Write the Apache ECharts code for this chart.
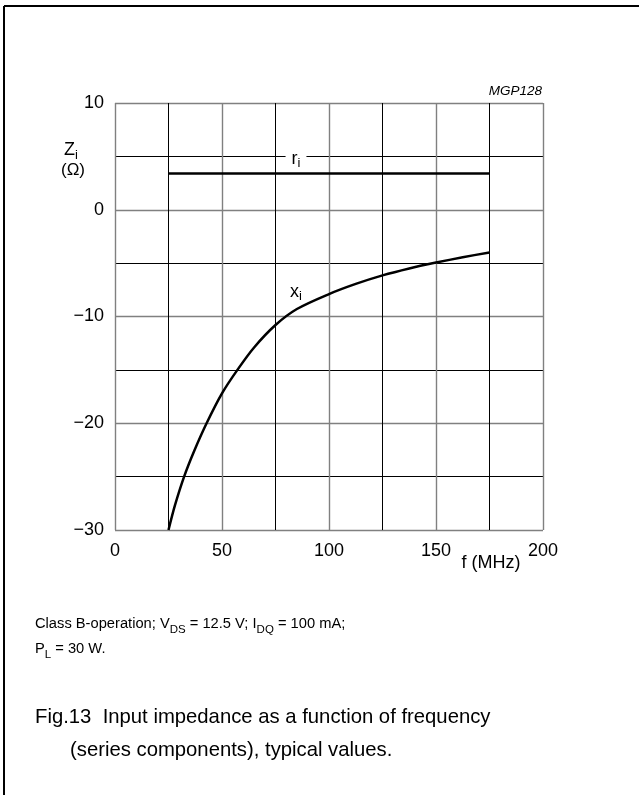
<!DOCTYPE html>
<html>
<head>
<meta charset="utf-8">
<script src="https://cdn.jsdelivr.net/npm/echarts@6/dist/echarts.min.js"></script>
<style>
html,body{margin:0;padding:0;background:#fff;}
#c{width:639px;height:795px;}
</style>
</head>
<body>
<div id="c"></div>
<script>
// Data
const riFreq = [25, 175];
const riValues = [3.4, 3.4];
const xiFreq = [25, 28, 32.3, 37, 42.8, 50, 57.2, 65, 75, 85, 100, 112.5, 125, 137.5, 150, 162.5, 175];
const xiValues = [-30, -27.7, -25, -22.6, -20, -17.2, -15, -12.9, -10.8, -9.3, -7.9, -6.95, -6.15, -5.5, -4.95, -4.45, -4.0];
const xTicks = [0, 50, 100, 150, 200];
const yTicks = [-30, -20, -10, 0, 10];

const FONT = '"Liberation Sans", Arial, sans-serif';
const chart = echarts.init(document.getElementById('c'), null, {renderer: 'canvas'});

const zip = (a, b) => a.map((v, i) => [v, b[i]]);

chart.setOption({
  animation: false,
  backgroundColor: '#fff',
  grid: {left: 115, top: 103, right: 96, bottom: 265},
  xAxis: {
    type: 'value', min: xTicks[0], max: xTicks[xTicks.length - 1], interval: 50,
    axisLine: {show: false}, axisTick: {show: false},
    axisLabel: {margin: 12, color: '#000', fontSize: 18, fontFamily: FONT},
    splitLine: {show: true, lineStyle: {color: '#808080', width: 1.4}},
    minorTick: {show: false, splitNumber: 2},
    minorSplitLine: {show: true, lineStyle: {color: '#000', width: 1}}
  },
  yAxis: {
    type: 'value', min: yTicks[0], max: yTicks[yTicks.length - 1], interval: 10,
    axisLine: {show: false}, axisTick: {show: false},
    axisLabel: {margin: 11, color: '#000', fontSize: 18, fontFamily: FONT,
      formatter: v => String(v).replace('-', '\u2212')},
    splitLine: {show: true, lineStyle: {color: '#808080', width: 1.4}},
    minorTick: {show: false, splitNumber: 2},
    minorSplitLine: {show: true, lineStyle: {color: '#000', width: 1}}
  },
  series: [
    {type: 'line', name: 'ri', data: zip(riFreq, riValues), showSymbol: false,
      lineStyle: {color: '#000', width: 2.5}, z: 5},
    {type: 'line', name: 'xi', data: zip(xiFreq, xiValues), showSymbol: false, smooth: 0.3,
      lineStyle: {color: '#000', width: 2.5}, z: 5}
  ],
  graphic: [
    {type: 'line', shape: {x1: 4, y1: 6, x2: 639, y2: 6}, style: {stroke: '#000', lineWidth: 2}},
    {type: 'line', shape: {x1: 4, y1: 6, x2: 4, y2: 795}, style: {stroke: '#000', lineWidth: 2}},
    {type: 'text', x: 542, y: 91, z: 10, style: {text: 'MGP128', textAlign: 'right', textVerticalAlign: 'middle',
      font: 'italic 13.5px ' + FONT, fill: '#000'}},
    {type: 'text', x: 64, y: 150, z: 10, style: {
      text: '{a|Z}{s|i}', textAlign: 'left', textVerticalAlign: 'middle', fill: '#000',
      rich: {a: {fontSize: 18, fontFamily: FONT, lineHeight: 24, verticalAlign: 'middle'},
             s: {fontSize: 13, fontFamily: FONT, lineHeight: 12, verticalAlign: 'bottom'}}}},
    {type: 'text', x: 73, y: 170, z: 10, style: {text: '(\u03A9)', textAlign: 'center', textVerticalAlign: 'middle',
      font: '17px ' + FONT, fill: '#000'}},
    {type: 'text', x: 296, y: 159, z: 10, style: {
      text: '{a|r}{s|i}', textAlign: 'center', textVerticalAlign: 'middle', fill: '#000',
      backgroundColor: '#fff', padding: [0, 6, 0, 6],
      rich: {a: {fontSize: 18, fontFamily: FONT, lineHeight: 22, verticalAlign: 'middle', backgroundColor: '#fff'},
             s: {fontSize: 13, fontFamily: FONT, lineHeight: 11, verticalAlign: 'bottom', backgroundColor: '#fff'}}}},
    {type: 'text', x: 296, y: 292, z: 10, style: {
      text: '{a|x}{s|i}', textAlign: 'center', textVerticalAlign: 'middle', fill: '#000',
      rich: {a: {fontSize: 18, fontFamily: FONT, lineHeight: 22, verticalAlign: 'middle'},
             s: {fontSize: 13, fontFamily: FONT, lineHeight: 11, verticalAlign: 'bottom'}}}},
    {type: 'text', x: 491, y: 563, z: 10, style: {text: 'f (MHz)', textAlign: 'center', textVerticalAlign: 'middle',
      font: '18px ' + FONT, fill: '#000'}},
    {type: 'text', x: 35, y: 636, z: 10, style: {
      text: '{a|Class B-operation; V}{s|DS}{a| = 12.5 V; I}{s|DQ}{a| = 100 mA;}\n{a|P}{s|L}{a| = 30 W.}',
      textAlign: 'left', textVerticalAlign: 'middle', fill: '#000',
      rich: {a: {fontSize: 14.7, fontFamily: FONT, lineHeight: 25, verticalAlign: 'middle'},
             s: {fontSize: 11.5, fontFamily: FONT, lineHeight: 11, verticalAlign: 'bottom'}}}},
    {type: 'text', x: 35, y: 717, z: 10, style: {text: 'Fig.13  Input impedance as a function of frequency',
      textAlign: 'left', textVerticalAlign: 'middle', font: '20.3px ' + FONT, fill: '#000'}},
    {type: 'text', x: 70, y: 750, z: 10, style: {text: '(series components), typical values.',
      textAlign: 'left', textVerticalAlign: 'middle', font: '20.3px ' + FONT, fill: '#000'}}
  ]
});
</script>
</body>
</html>
